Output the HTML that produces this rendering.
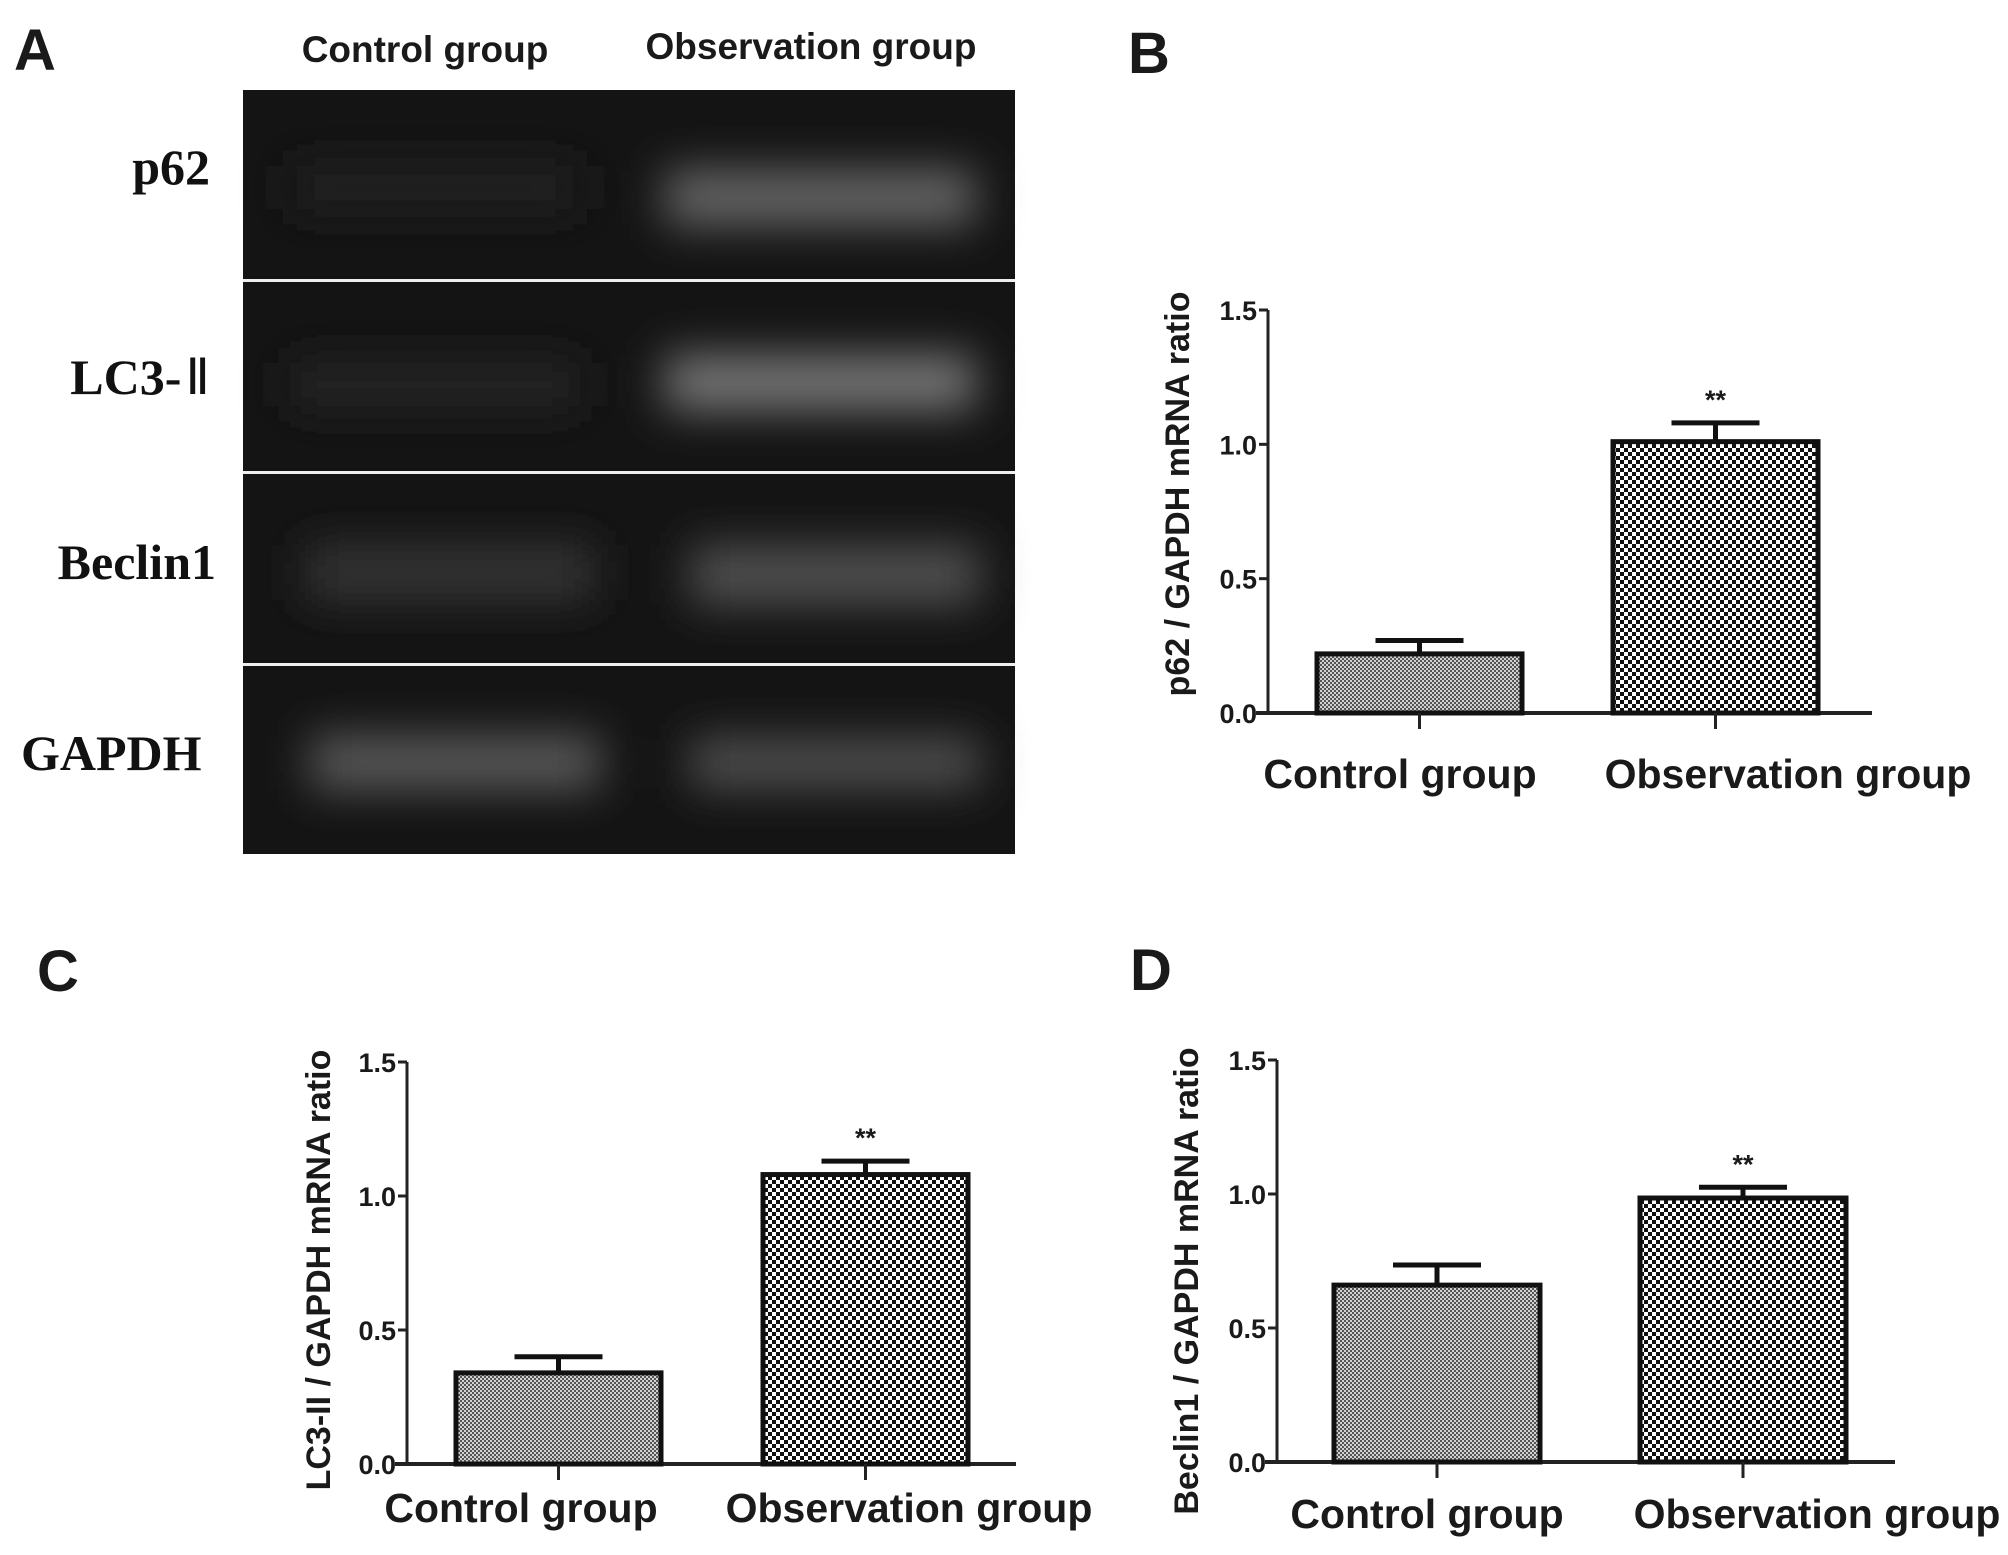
<!DOCTYPE html>
<html><head><meta charset="utf-8"><style>
html,body{margin:0;padding:0;background:#fff;}
svg{display:block;}
.lab{font-family:"Liberation Sans",sans-serif;font-weight:bold;fill:#1a1a1a;}
.ser{font-family:"Liberation Serif","Noto Serif CJK SC",serif;font-weight:bold;fill:#111;}
</style></head><body>
<svg id="fig" width="2008" height="1555" viewBox="0 0 2008 1555" xmlns="http://www.w3.org/2000/svg">
<defs>
<pattern id="fine" width="4" height="4" patternUnits="userSpaceOnUse"><rect width="4" height="4" fill="#d0d0d0"/><rect width="2" height="2" fill="#555"/><rect x="2" y="2" width="2" height="2" fill="#555"/></pattern>
<pattern id="coarse" width="8" height="8" patternUnits="userSpaceOnUse"><rect width="8" height="8" fill="#fff"/><rect width="4" height="4" fill="#111"/><rect x="4" y="4" width="4" height="4" fill="#111"/></pattern>
<filter id="blur" x="-30%" y="-80%" width="160%" height="260%"><feGaussianBlur stdDeviation="22"/></filter>
</defs>
<g>
<text class="lab" x="14" y="70" font-size="58">A</text>
<text class="lab" x="425" y="62" font-size="37" text-anchor="middle">Control group</text>
<text class="lab" x="811" y="59" font-size="37" text-anchor="middle">Observation group</text>
<rect x="243" y="90" width="772" height="764" fill="#141414"/>
<g filter="url(#blur)">
<rect x="290" y="165" width="290" height="45" fill="#242424"/>
<rect x="665" y="170" width="310" height="55" fill="#666"/>
<rect x="290" y="362" width="290" height="45" fill="#262626"/>
<rect x="665" y="355" width="310" height="55" fill="#777"/>
<rect x="305" y="545" width="290" height="55" fill="#353535"/>
<rect x="690" y="545" width="290" height="60" fill="#505050"/>
<rect x="310" y="735" width="290" height="55" fill="#595959"/>
<rect x="690" y="738" width="290" height="50" fill="#505050"/>
</g>
<rect x="243" y="279" width="772" height="3" fill="#eee"/>
<rect x="243" y="471" width="772" height="3" fill="#eee"/>
<rect x="243" y="663" width="772" height="3" fill="#eee"/>
<text class="ser" x="210" y="184" font-size="50" text-anchor="end">p62</text>
<text class="ser" x="210" y="394" font-size="50" text-anchor="end">LC3-<tspan font-family="Liberation Serif" font-weight="normal" dx="4">Ⅱ</tspan></text>
<text class="ser" x="216" y="579" font-size="50" text-anchor="end">Beclin1</text>
<text class="ser" x="21" y="770" font-size="50">GAPDH</text>
</g>
<text class="lab" x="1128" y="73" font-size="58">B</text>
<text class="lab" x="37" y="991" font-size="58">C</text>
<text class="lab" x="1130" y="990" font-size="58">D</text>
<g id="charts"></g>
</svg>
<script>
const categories = ["Control group", "Observation group"];
const ticks = [0.0, 0.5, 1.0, 1.5];
const tickLabels = ["0.0", "0.5", "1.0", "1.5"];
const bMeans = [0.22, 1.01];
const bErrors = [0.05, 0.07];
const cMeans = [0.34, 1.08];
const cErrors = [0.06, 0.05];
const dMeans = [0.66, 0.985];
const dErrors = [0.075, 0.04];
const signif = ["", "**"];

const NS = "http://www.w3.org/2000/svg";
const root = document.getElementById("charts");
function mk(tag, attrs, parent){const e=document.createElementNS(NS,tag);for(const k in attrs)e.setAttribute(k,attrs[k]);parent.appendChild(e);return e;}

function chart(cfg, means, errs){
  const g = mk("g", {}, root);
  
  
  const y = v => cfg.y0 - (v / 1.5) * (cfg.y0 - cfg.y15);
  const bx = [cfg.b1, cfg.b2];
  const ya = mk("line", {x1:cfg.ax,y1:y(1.5),x2:cfg.ax,y2:cfg.y0,stroke:"#222","stroke-width":3}, g);
  
  
  const xa = mk("line", {x1:cfg.ax-12,y1:cfg.y0,x2:cfg.xe,y2:cfg.y0,stroke:"#222","stroke-width":4}, g);
  
  
  ticks.forEach((t,i)=>{
    mk("line",{x1:cfg.ax-9,y1:y(t),x2:cfg.ax,y2:y(t),stroke:"#222","stroke-width":3},g);
    const tl = mk("text",{x:cfg.ax-11,y:y(t)+10,"font-size":27,"text-anchor":"end",class:"lab"},g);
    tl.textContent = tickLabels[i];
    
    
  });
  means.forEach((m,i)=>{
    const x0 = bx[i], w = cfg.bw, cx = x0 + w/2;
    const r = mk("rect",{x:x0,y:y(m),width:w,height:cfg.y0-y(m),fill:i===0?"url(#fine)":"url(#coarse)",stroke:"#111","stroke-width":5},g);
    
    
    const e = mk("path",{d:`M${cx} ${y(m)} V${y(m+errs[i])} M${cx-44} ${y(m+errs[i])} H${cx+44}`,stroke:"#111","stroke-width":5,fill:"none"},g);
    
    
    mk("line",{x1:cx,y1:cfg.y0,x2:cx,y2:cfg.y0+16,stroke:"#222","stroke-width":3},g);
    if(signif[i]){
      const s = mk("text",{x:cx,y:y(m+errs[i])-14,"font-size":27,"text-anchor":"middle",class:"lab"},g);
      s.textContent = signif[i];
      
      
    }
    const c = mk("text",{x:cfg.lx[i],y:cfg.ly,"font-size":41,"text-anchor":"middle",class:"lab"},g);
    c.textContent = categories[i];
    
    
  });
  const yl = mk("text",{x:0,y:0,"font-size":34,"text-anchor":"middle",class:"lab",transform:`translate(${cfg.ylx},${cfg.yly}) rotate(-90)`},g);
  yl.textContent = cfg.title;
  
  
}
chart({name:"chart-b-p62",ax:1268,xe:1872,y0:713,y15:310,b1:1317,b2:1613,bw:205,lx:[1400,1788],ly:788,ylx:1189,yly:494,title:"p62 / GAPDH mRNA ratio"}, bMeans, bErrors);
chart({name:"chart-c-lc3",ax:407,xe:1016,y0:1464,y15:1062,b1:456,b2:763,bw:205,lx:[521,909],ly:1522,ylx:330,yly:1270,title:"LC3-II / GAPDH mRNA ratio"}, cMeans, cErrors);
chart({name:"chart-d-beclin1",ax:1277,xe:1895,y0:1462,y15:1060,b1:1334,b2:1640,bw:206,lx:[1427,1817],ly:1528,ylx:1198,yly:1281,title:"Beclin1 / GAPDH mRNA ratio"}, dMeans, dErrors);
</script>
</body></html>
